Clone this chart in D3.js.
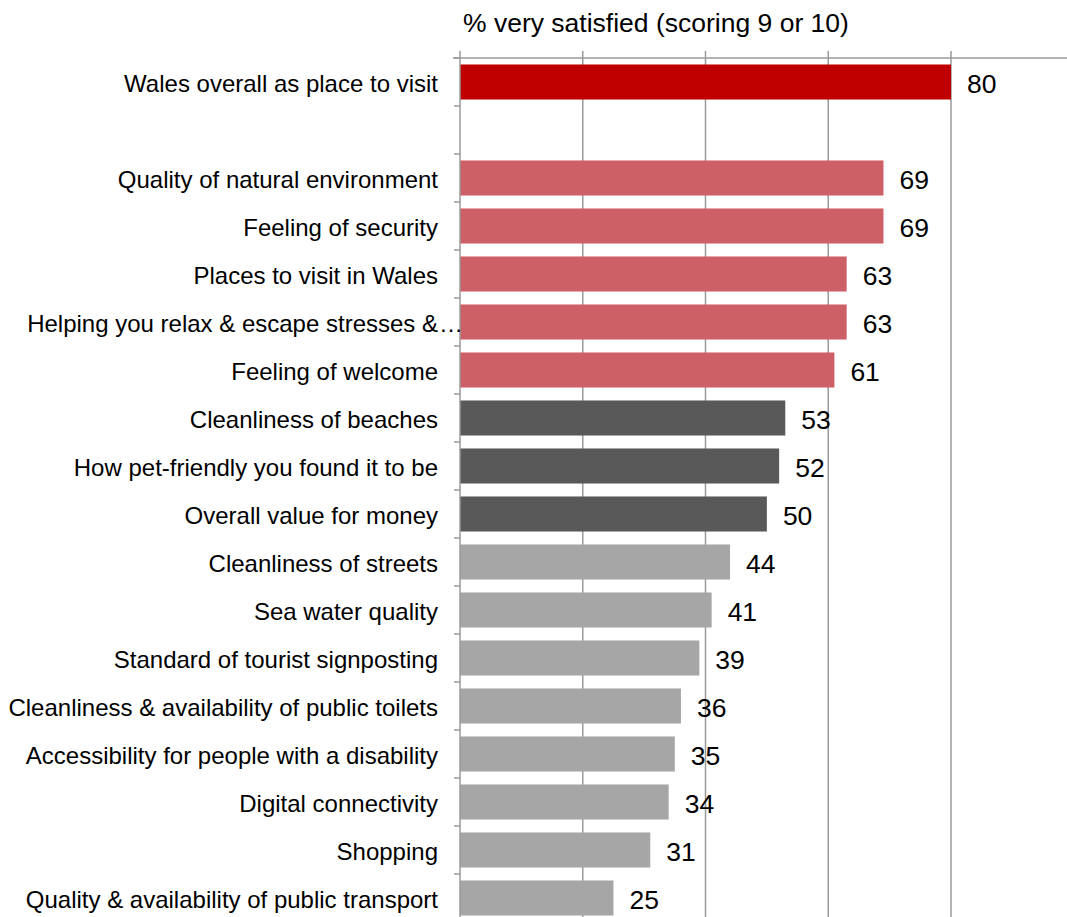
<!DOCTYPE html>
<html><head><meta charset="utf-8">
<script src="https://cdn.jsdelivr.net/npm/d3@7/dist/d3.min.js"></script>
<style>body{margin:0;background:#fff;overflow:hidden}svg{display:block}</style>
</head><body>
<svg id="chart" width="1067" height="917"></svg>
<script>
const categories = ["Wales overall as place to visit", "", "Quality of natural environment", "Feeling of security", "Places to visit in Wales", "Helping you relax & escape stresses &", "Feeling of welcome", "Cleanliness of beaches", "How pet-friendly you found it to be", "Overall value for money", "Cleanliness of streets", "Sea water quality", "Standard of tourist signposting", "Cleanliness & availability of public toilets", "Accessibility for people with a disability", "Digital connectivity", "Shopping", "Quality & availability of public transport"];
const values = [80, null, 69, 69, 63, 63, 61, 53, 52, 50, 44, 41, 39, 36, 35, 34, 31, 25];
const groups = ["overall", null, "top", "top", "top", "top", "top", "mid", "mid", "mid", "low", "low", "low", "low", "low", "low", "low", "low"];
const truncated = [false, false, false, false, false, true, false, false, false, false, false, false, false, false, false, false, false, false];
const xTicks = [0, 20, 40, 60, 80, 100];
const axisTitle = "% very satisfied (scoring 9 or 10)";
const groupColors = {overall: "#C00000", top: "#CD5F67", mid: "#595959", low: "#A6A6A6"};

const svg = d3.select("#chart");
const x = d3.scaleLinear().domain([0, 100]).range([460, 1073.75]);
const y = d3.scaleBand().domain(d3.range(categories.length)).range([58, 58 + 48 * categories.length]).paddingInner(0.27).paddingOuter(0.135);
const yb = d3.scaleBand().domain(d3.range(categories.length)).range([58, 58 + 48 * categories.length]);

// gridlines
svg.append("g").selectAll("line").data(xTicks.slice(1)).join("line")
  .attr("x1", d => x(d)).attr("x2", d => x(d)).attr("y1", 51).attr("y2", 917)
  .attr("stroke", "#9a9a9a").attr("stroke-width", 1.5);

// bars
svg.append("g").selectAll("rect").data(values.map((v, i) => ({v, i})).filter(d => d.v != null)).join("rect")
  .attr("x", x(0)).attr("y", d => y(d.i)).attr("width", d => x(d.v) - x(0)).attr("height", y.bandwidth())
  .attr("fill", d => groupColors[groups[d.i]]);

// top axis line
svg.append("line").attr("x1", 453).attr("x2", 1067).attr("y1", 58).attr("y2", 58)
  .attr("stroke", "#9a9a9a").attr("stroke-width", 1.5);
// left axis line
svg.append("line").attr("x1", x(0)).attr("x2", x(0)).attr("y1", 51).attr("y2", 917)
  .attr("stroke", "#9a9a9a").attr("stroke-width", 1.5);
// left ticks at band boundaries
svg.append("g").selectAll("line").data(d3.range(categories.length)).join("line")
  .attr("x1", 454).attr("x2", x(0)).attr("y1", d => yb(d)).attr("y2", d => yb(d))
  .attr("stroke", "#9a9a9a").attr("stroke-width", 1.5);

// category labels
const lab = svg.append("g").attr("font-family", "Liberation Sans, Arial, sans-serif").attr("font-size", 24).attr("fill", "#000");
lab.selectAll("text").data(categories.map((c, i) => ({c, i}))).join("text")
  .attr("x", 438).attr("y", d => yb(d.i) + yb.bandwidth() / 2 + 2).attr("dy", "0.35em")
  .attr("text-anchor", "end").text(d => d.c);
lab.selectAll("text.ell").data(categories.map((c, i) => ({c, i})).filter(d => truncated[d.i])).join("text")
  .attr("class", "ell").attr("x", 439).attr("y", d => yb(d.i) + yb.bandwidth() / 2 + 2).attr("dy", "0.35em")
  .text("…");

// value labels
svg.append("g").attr("font-family", "Liberation Sans, Arial, sans-serif").attr("font-size", 26.5).attr("fill", "#000")
  .selectAll("text").data(values.map((v, i) => ({v, i})).filter(d => d.v != null)).join("text")
  .attr("x", d => x(d.v) + 16).attr("y", d => yb(d.i) + yb.bandwidth() / 2 + 2).attr("dy", "0.35em")
  .text(d => d.v);

// axis title
svg.append("text").attr("x", 463).attr("y", 32).attr("font-family", "Liberation Sans, Arial, sans-serif")
  .attr("font-size", 26.5).attr("fill", "#000").text(axisTitle);
</script>
</body></html>
